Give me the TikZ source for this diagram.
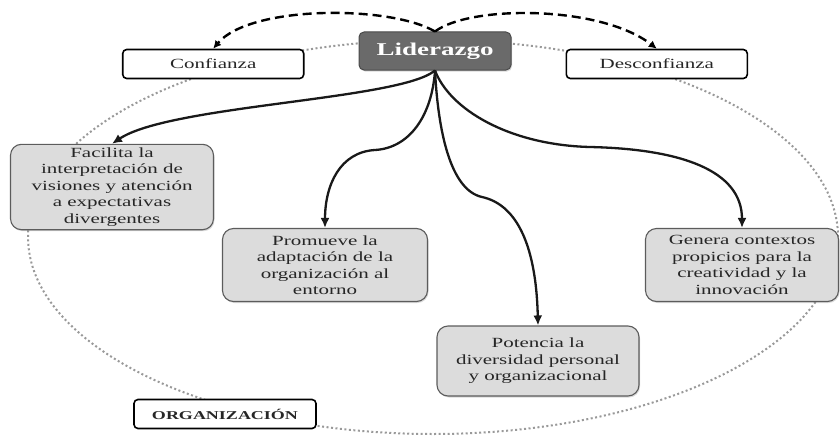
\documentclass[tikz,border=0pt]{standalone}
\usepackage{fontspec}
\setmainfont{Liberation Serif}[FakeStretch=1.5]
\usetikzlibrary{arrows.meta,positioning,shadows}
\definecolor{leadgray}{HTML}{6A6A6A}
\definecolor{leadedge}{HTML}{4A4A4A}
\definecolor{boxgray}{HTML}{DCDCDC}
\definecolor{edgegray}{HTML}{5C5C5C}
\definecolor{dotgray}{HTML}{999999}
\definecolor{inkgray}{HTML}{262626}

\begin{document}
\begin{tikzpicture}[x=1pt,y=-1pt, every node/.style={font=\fontsize{14}{16.5}\selectfont,text=inkgray}, lead/.style={draw=leadedge,fill=leadgray,rounded corners=5pt,line width=1pt,minimum width=152pt,minimum height=38pt,text=white,font=\fontsize{18}{20}\selectfont\bfseries,drop shadow={opacity=0.3,shadow xshift=1pt,shadow yshift=-1.5pt}}, tag/.style={draw=black,fill=white,rounded corners=4pt,line width=1.6pt,minimum width=181pt,minimum height=29pt,text=black!85}, idea/.style={draw=edgegray,fill=boxgray,rounded corners=11pt,line width=1.1pt,align=center,drop shadow={opacity=0.3,shadow xshift=1pt,shadow yshift=-1.5pt}}, arr/.style={-{Latex[length=10pt,width=9pt]},line width=2.3pt,draw=black!90}, darr/.style={-{Latex[length=8pt,width=8pt]},line width=2.4pt,dash pattern=on 9pt off 5pt}, ring/.style={draw=dotgray,line width=2pt,dash pattern=on 2pt off 2.5pt}]
\useasboundingbox (0,0) rectangle (840,436);
\draw[ring] (433,237) ellipse [x radius=405pt, y radius=197pt];
\node[lead] (lider) at (435,51) {Liderazgo};
\node[tag,left=54pt of lider,yshift=-13pt] (confianza) {Confianza};
\node[tag,right=54pt of lider,yshift=-13pt] (desconfianza) {Desconfianza};
\node[idea,minimum width=203pt,minimum height=85pt] (facilita) at (112,187) {Facilita la\\interpretación de\\visiones y atención\\a expectativas\\divergentes};
\node[idea,minimum width=205pt,minimum height=73pt] (promueve) at (325,265) {Promueve la\\adaptación de la\\organización al\\entorno};
\node[idea,minimum width=193pt,minimum height=73pt] (genera) at (742,265) {Genera contextos\\propicios para la\\creatividad y la\\innovación};
\node[idea,minimum width=202pt,minimum height=70pt] (potencia) at (538,361) {Potencia la\\diversidad personal\\y organizacional};
\node[tag,minimum width=182pt,font=\fontsize{12}{14}\selectfont\bfseries] (organizacion) at (225,414) {ORGANIZACIÓN};
\draw[darr] (lider.north) .. controls (390,5) and (250,5) .. (confianza.north);
\draw[darr] (lider.north) .. controls (470,5) and (600,5) .. (desconfianza.north);
\draw[arr] (lider.south) .. controls (400,100) and (170,105) .. (facilita.north);
\draw[arr] (lider.south) .. controls (432,115) and (410,148) .. (375,150) .. controls (340,152) and (325,185) .. (promueve.north);
\draw[arr] (lider.south) .. controls (438,130) and (450,190) .. (482,197) .. controls (514,204) and (536,240) .. (potencia.north);
\draw[arr] (lider.south) .. controls (450,110) and (510,145) .. (590,147) .. controls (680,149) and (742,170) .. (genera.north);
\end{tikzpicture}
\end{document}
